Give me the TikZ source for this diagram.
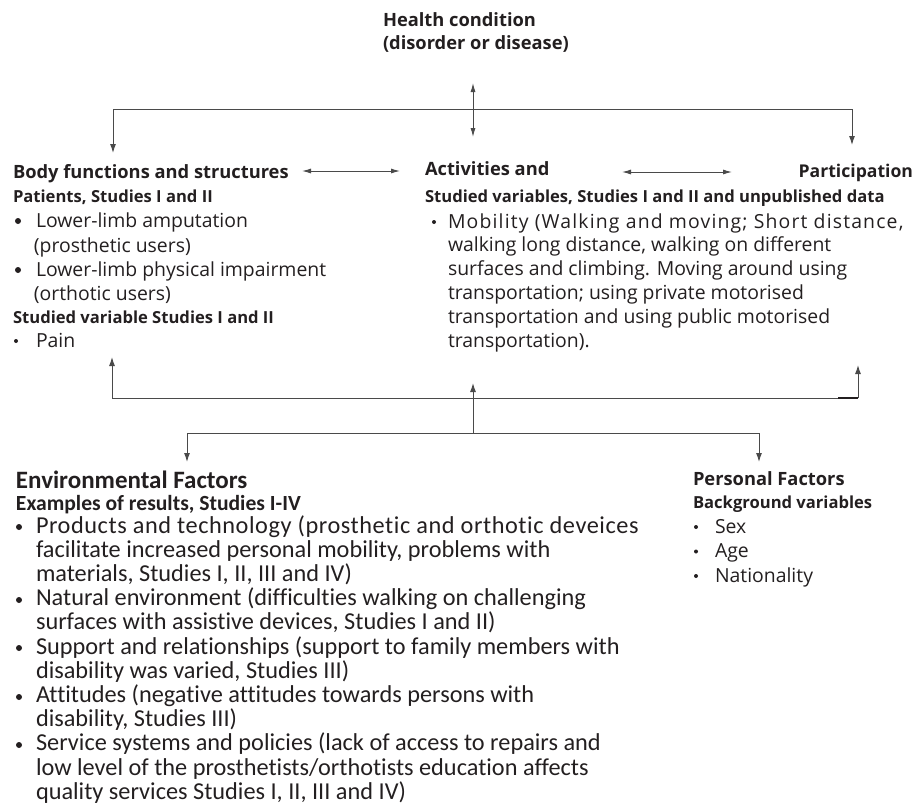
\documentclass[tikz,border=0pt]{standalone}
\usepackage{fontspec}
\setmainfont{Open Sans}[Ligatures=NoCommon]
\newfontfamily\calfont{Carlito}[Ligatures=NoCommon]
\usetikzlibrary{arrows.meta}
\definecolor{ink}{HTML}{231F20}
\definecolor{wire}{HTML}{4A4A4A}
\begin{document}
\begin{tikzpicture}[x=1pt,y=-1pt,
  txt/.style={anchor=base west,inner sep=0pt,outer sep=0pt,text=ink},
  hd/.style={txt,font=\fontsize{18.3}{22}\selectfont\bfseries},
  sub/.style={txt,font=\fontsize{16.6}{19}\selectfont\bfseries},
  bd/.style={txt,font=\fontsize{19.4}{24}\selectfont},
  ehd/.style={txt,font=\calfont\fontsize{25}{28}\selectfont\bfseries},
  esub/.style={txt,font=\calfont\fontsize{21.6}{26}\selectfont\bfseries},
  ebd/.style={txt,font=\calfont\fontsize{24.3}{28}\selectfont},
  bigdot/.style={circle,fill=ink,inner sep=0pt,minimum size=6pt},
  smalldot/.style={circle,fill=ink,inner sep=0pt,minimum size=4pt},
  wireline/.style={draw=wire,line width=1pt},
  arr/.style={wireline,-{Latex[length=9pt,width=6pt]}},
  darr/.style={wireline,{Latex[length=9pt,width=5pt]}-{Latex[length=9pt,width=5pt]}},
]
\useasboundingbox (0,0) rectangle (914,807);
% Health condition
\node[hd] (hc1) at (383,26) {Health condition};
\node[hd] (hc2) at (383,49) {(disorder or disease)};
% Body functions
\node[hd] (bf) at (13,178) {Body functions and structures};
\node[sub] (bfs) at (13,202) {Patients, Studies I and II};
\node[bigdot] (bfd1) at (18,221) {};
\node[bd] (bf1) at (36,227) {Lower-limb amputation};
\node[bd] (bf1b) at (34,252) {(prosthetic users)};
\node[bigdot] (bfd2) at (18,270) {};
\node[bd] (bf2) at (36,276) {Lower-limb physical impairment};
\node[bd] (bf2b) at (34,300) {(orthotic users)};
\node[sub] (bfv) at (13,323) {Studied variable Studies I and II};
\node[smalldot] (bfd3) at (16,341) {};
\node[bd] (pain) at (36,347) {Pain};
% Activities
\node[hd] (act) at (425,175) {Activities and};
\node[hd,anchor=base east,font=\fontsize{17.6}{21}\selectfont\bfseries] (part) at (913,177) {Participation};
\node[sub] (acts) at (425,202) {Studied variables, Studies I and II and unpublished data};
\node[smalldot] (actd) at (434,222) {};
\node[bd] (mob0) at (448,228) {\addfontfeature{LetterSpace=6}Mobility (Walking and moving; Short distance,};
\foreach \t [count=\i from 1] in {{walking long distance, walking on different},{surfaces and climbing. Moving around using},{transportation; using private motorised},{transportation and using public motorised},{transportation).}}
  \node[bd] (mob\i) at (448,{228+23.8*\i}) {\t};
% Environmental
\node[ehd] (env) at (16,488) {Environmental Factors};
\node[esub] (envs) at (16,510) {Examples of results, Studies I-IV};
\foreach \y in {527,600,648,697,745}
  \node[bigdot] at (19,\y) {};
\node[ebd] (env0) at (36,533) {\addfontfeature{LetterSpace=2.3}Products and technology (prosthetic and orthotic deveices};
\foreach \t [count=\i from 1] in {{facilitate increased personal mobility, problems with},{materials, Studies I, II, III and IV)},{Natural environment (difficulties walking on challenging},{surfaces with assistive devices, Studies I and II)},{Support and relationships (support to family members with},{disability was varied, Studies III)},{Attitudes (negative attitudes towards persons with},{disability, Studies III)},{Service systems and policies (lack of access to repairs and},{low level of the prosthetists/orthotists education affects},{quality services Studies I, II, III and IV)}}
  \node[ebd] (env\i) at (36,{533+24.2*\i}) {\t};
% Personal
\node[hd] (pf) at (693,485) {Personal Factors};
\node[sub] (pfs) at (693,508) {Background variables};
\foreach \t [count=\i from 0] in {Sex,Age,Nationality}{
  \node[smalldot] at (696,{527+24.5*\i}) {};
  \node[bd] (pf\i) at (715,{533+24.5*\i}) {\t};
}
% connectors top
\coordinate (tl) at (113,109);
\coordinate (tr) at (852,109);
\coordinate (ttop) at (473,83);
\coordinate (tbot) at (473,137);
\coordinate (tld) at (113,153);
\coordinate (trd) at (852,145);
\draw[wireline] (tl) -- (tr);
\draw[arr] (tl) -- (tld);
\draw[arr] (tr) -- (trd);
\draw[darr] (ttop) -- (tbot);
\coordinate (h1a) at (302,171);
\coordinate (h1b) at (400,171);
\coordinate (h2a) at (622,172);
\coordinate (h2b) at (732,172);
\draw[darr] (h1a) -- (h1b);
\draw[darr] (h2a) -- (h2b);
% connectors bottom
\coordinate (bl) at (112,398);
\coordinate (br) at (858,398);
\coordinate (blu) at (112,357);
\coordinate (bru) at (858,365);
\coordinate (bm) at (473,433);
\coordinate (bmu) at (473,383);
\coordinate (ll) at (187,433);
\coordinate (lr) at (759,433);
\coordinate (lld) at (187,462);
\coordinate (lrd) at (759,462);
\draw[wireline] (bl) -- (br);
\draw[draw=ink,line width=2pt] (838,398) -- (br);
\draw[arr] (bl) -- (blu);
\draw[arr] (br) -- (bru);
\draw[arr] (bm) -- (bmu);
\draw[wireline] (ll) -- (lr);
\draw[arr] (ll) -- (lld);
\draw[arr] (lr) -- (lrd);
\end{tikzpicture}
\end{document}
